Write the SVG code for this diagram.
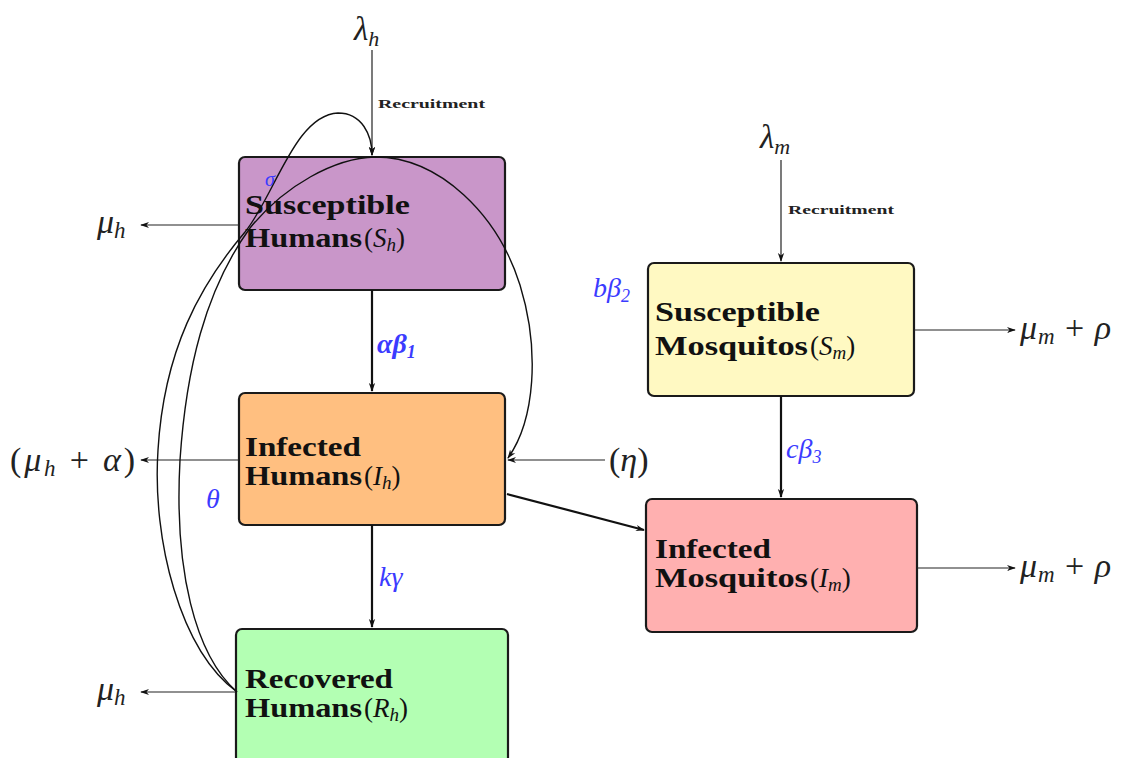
<svg xmlns="http://www.w3.org/2000/svg" width="1126" height="758" viewBox="0 0 1126 758">
<defs>
<style>
.box{stroke:#1a1a1a;stroke-width:2.2}
.lbl{font-family:"Liberation Serif",serif;font-weight:bold;font-size:27px;fill:#111}
.m{font-family:"Liberation Serif",serif;font-size:27px;fill:#111}
.big{font-family:"Liberation Serif",serif;font-size:34px;fill:#222}
.it{font-style:italic}
.sub{font-size:19px;font-style:italic}
.rec{font-family:"Liberation Serif",serif;font-weight:bold;font-size:13px;fill:#222}
.blue{font-family:"Liberation Serif",serif;font-size:28px;font-style:italic;fill:#3b3bff}
.bsub{font-size:18px}
.thin{fill:none;stroke:#222;stroke-width:1.2}
.thick{fill:none;stroke:#111;stroke-width:2.2}
.curve{fill:none;stroke:#111;stroke-width:1.4}
</style>
<marker id="a" viewBox="0 0 10 10" refX="9" refY="5" markerWidth="9" markerHeight="9" markerUnits="userSpaceOnUse" orient="auto"><path d="M0,1.5 L10,5 L0,8.5 L3,5 Z" fill="#111"/></marker>
</defs>
<rect width="1126" height="758" fill="#fff"/>

<g id="S_h">
<rect class="box" x="239" y="157" width="266" height="133" rx="6" fill="#c996c9"/>
<text class="lbl" x="245" y="214" textLength="165" lengthAdjust="spacingAndGlyphs">Susceptible</text>
<text class="lbl" x="245" y="247" textLength="117" lengthAdjust="spacingAndGlyphs">Humans</text>
<text class="m" x="364" y="247">(<tspan class="it">S</tspan><tspan class="sub" dy="4">h</tspan><tspan dy="-4">)</tspan></text>
</g>

<g id="I_h">
<rect class="box" x="239" y="393" width="266" height="132" rx="6" fill="#ffbf80"/>
<text class="lbl" x="245" y="456" textLength="116" lengthAdjust="spacingAndGlyphs">Infected</text>
<text class="lbl" x="245" y="485" textLength="117" lengthAdjust="spacingAndGlyphs">Humans</text>
<text class="m" x="364" y="485">(<tspan class="it">I</tspan><tspan class="sub" dy="4">h</tspan><tspan dy="-4">)</tspan></text>
</g>

<g id="R_h">
<rect class="box" x="236" y="629" width="272" height="140" rx="6" fill="#b3ffb3"/>
<text class="lbl" x="245" y="688" textLength="148" lengthAdjust="spacingAndGlyphs">Recovered</text>
<text class="lbl" x="245" y="717" textLength="117" lengthAdjust="spacingAndGlyphs">Humans</text>
<text class="m" x="364" y="717">(<tspan class="it">R</tspan><tspan class="sub" dy="4">h</tspan><tspan dy="-4">)</tspan></text>
</g>

<g id="S_m">
<rect class="box" x="648" y="263" width="266" height="133" rx="6" fill="#fff9c2"/>
<text class="lbl" x="655" y="321" textLength="165" lengthAdjust="spacingAndGlyphs">Susceptible</text>
<text class="lbl" x="655" y="355" textLength="153" lengthAdjust="spacingAndGlyphs">Mosquitos</text>
<text class="m" x="810" y="355">(<tspan class="it">S</tspan><tspan class="sub" dy="4">m</tspan><tspan dy="-4">)</tspan></text>
</g>

<g id="I_m">
<rect class="box" x="646" y="499" width="271" height="133" rx="6" fill="#ffb0b0"/>
<text class="lbl" x="655" y="558" textLength="116" lengthAdjust="spacingAndGlyphs">Infected</text>
<text class="lbl" x="655" y="587" textLength="153" lengthAdjust="spacingAndGlyphs">Mosquitos</text>
<text class="m" x="810" y="587">(<tspan class="it">I</tspan><tspan class="sub" dy="4">m</tspan><tspan dy="-4">)</tspan></text>
</g>

<g id="connectors">
<path class="thin" d="M372,50 V155" marker-end="url(#a)"/>
<path class="thin" d="M781,160 V261" marker-end="url(#a)"/>
<path class="thick" d="M372,290 V391" marker-end="url(#a)"/>
<path class="thick" d="M372,525 V627" marker-end="url(#a)"/>
<path class="thick" d="M781,396 V497" marker-end="url(#a)"/>
<path class="thick" d="M507,494 L644,530" marker-end="url(#a)"/>
<path class="thin" d="M239,225 H141" marker-end="url(#a)"/>
<path class="thin" d="M239,460 H141" marker-end="url(#a)"/>
<path class="thin" d="M236,692 H141" marker-end="url(#a)"/>
<path class="thin" d="M605,460 H508" marker-end="url(#a)"/>
<path class="thin" d="M914,330 H1015" marker-end="url(#a)"/>
<path class="thin" d="M917,568 H1015" marker-end="url(#a)"/>
<path class="curve" d="M237,692 C180,650 152,540 158,450 C164,350 200,285 245,232 C275,195 295,115 338,113 C362,113 372,135 372,155" marker-end="url(#a)"/>
<path class="curve" d="M237,692 C195,655 174,570 180,460 C186,370 205,290 250,228 C285,185 335,158 375,157 C440,157 498,215 520,285 C540,350 535,420 508,458" marker-end="url(#a)"/>
</g>

<g id="labels">
<text class="big" x="354" y="40" style="font-size:33px"><tspan class="it">λ</tspan><tspan class="sub" dy="6" style="font-size:22px">h</tspan></text>
<text class="rec" x="378" y="108" textLength="107" lengthAdjust="spacingAndGlyphs">Recruitment</text>
<text class="big" x="760" y="148" style="font-size:33px"><tspan class="it">λ</tspan><tspan class="sub" dy="6" style="font-size:22px">m</tspan></text>
<text class="rec" x="788" y="214" textLength="106" lengthAdjust="spacingAndGlyphs">Recruitment</text>
<text class="big" x="97" y="233"><tspan class="it">μ</tspan><tspan class="sub" dy="5" style="font-size:23px">h</tspan></text>
<text class="big" x="10" y="471" textLength="125" lengthAdjust="spacing">(<tspan class="it">μ</tspan><tspan class="sub" dy="5" style="font-size:23px">h</tspan><tspan dy="-5"> + </tspan><tspan class="it">α</tspan>)</text>
<text class="big" x="97" y="700"><tspan class="it">μ</tspan><tspan class="sub" dy="5" style="font-size:23px">h</tspan></text>
<text class="big" x="609" y="471">(<tspan class="it">η</tspan>)</text>
<text class="big" x="1020" y="339" textLength="91" lengthAdjust="spacing"><tspan class="it">μ</tspan><tspan class="sub" dy="5" style="font-size:23px">m</tspan><tspan dy="-5"> + </tspan><tspan class="it">ρ</tspan></text>
<text class="big" x="1020" y="577" textLength="91" lengthAdjust="spacing"><tspan class="it">μ</tspan><tspan class="sub" dy="5" style="font-size:23px">m</tspan><tspan dy="-5"> + </tspan><tspan class="it">ρ</tspan></text>
<text class="blue" x="377" y="353" style="font-weight:bold">αβ<tspan class="bsub" dy="5">1</tspan></text>
<text class="blue" x="265" y="186" style="font-size:20px">σ</text>
<text class="blue" x="206" y="508">θ</text>
<text class="blue" x="379" y="586">kγ</text>
<text class="blue" x="593" y="297">bβ<tspan class="bsub" dy="5">2</tspan></text>
<text class="blue" x="786" y="458">cβ<tspan class="bsub" dy="5">3</tspan></text>
</g>
</svg>
